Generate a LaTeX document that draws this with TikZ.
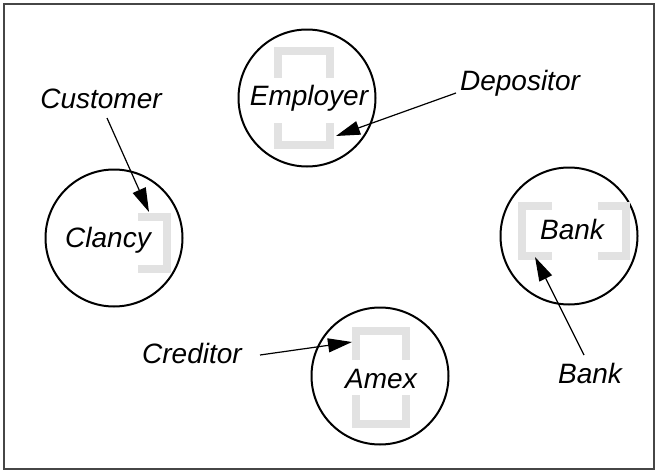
\documentclass[tikz,border=0pt]{standalone}
\usepackage{fontspec}
\setmainfont{Liberation Sans}
\usetikzlibrary{arrows.meta}
\definecolor{brk}{RGB}{226,226,226}
\definecolor{frm}{RGB}{70,70,70}
\begin{document}
\begin{tikzpicture}[x=1pt,y=-1pt,
  lbl/.style={font=\fontsize{28}{32}\selectfont\itshape, inner sep=0pt, anchor=base},
  role/.style={circle, draw, line width=2pt, minimum size=137pt, inner sep=0pt},
  brace/.style={draw=brk, line width=8pt},
  ptr/.style={-{Triangle[length=24pt,width=14pt]}, line width=1.2pt}]
\useasboundingbox (0,0) rectangle (656,471);
\draw[frm, line width=2pt] (4,4) rectangle (654,469);

% circles
\node[role] (employer) at (307,98) {};
\node[role] (clancy) at (114,238) {};
\node[role] (bank) at (569,236) {};
\node[role] (amex) at (380,376) {};

% brackets
\draw[brace] (278,78) -- (278,51) -- (330,51) -- (330,78);
\draw[brace] (278,123) -- (278,145) -- (330,145) -- (330,123);
\draw[brace] (138,217) -- (167,217) -- (167,269) -- (138,269);
\draw[brace] (552,206) -- (522,206) -- (522,256) -- (552,256);
\draw[brace] (598,206) -- (626,206) -- (626,256) -- (598,256);
\draw[brace] (356,360) -- (356,331) -- (406,331) -- (406,360);
\draw[brace] (356,395) -- (356,424) -- (406,424) -- (406,395);

% texts in circles
\node[lbl] (temployer) at (309,105) {Employer};
\node[lbl] (tclancy) at (108,247) {Clancy};
\node[lbl] (tbank) at (572,239) {Bank};
\node[lbl] (tamex) at (381,388) {Amex};

% role labels
\node[lbl] (customer) at (101,108) {Customer};
\node[lbl] (depositor) at (520,90) {Depositor};
\node[lbl] (creditor) at (192,363) {Creditor};
\node[lbl] (banklbl) at (590,383) {Bank};

% arrow ends
\coordinate (c1) at (107,118);
\coordinate (c2) at (149,212);
\coordinate (d1) at (456,93);
\coordinate (d2) at (336,136);
\coordinate (r1) at (260,355);
\coordinate (r2) at (352,342);
\coordinate (b1) at (584,355);
\coordinate (b2) at (535,257);

\draw[ptr] (c1) -- (c2);
\draw[ptr] (d1) -- (d2);
\draw[ptr] (r1) -- (r2);
\draw[ptr] (b1) -- (b2);
\end{tikzpicture}
\end{document}
